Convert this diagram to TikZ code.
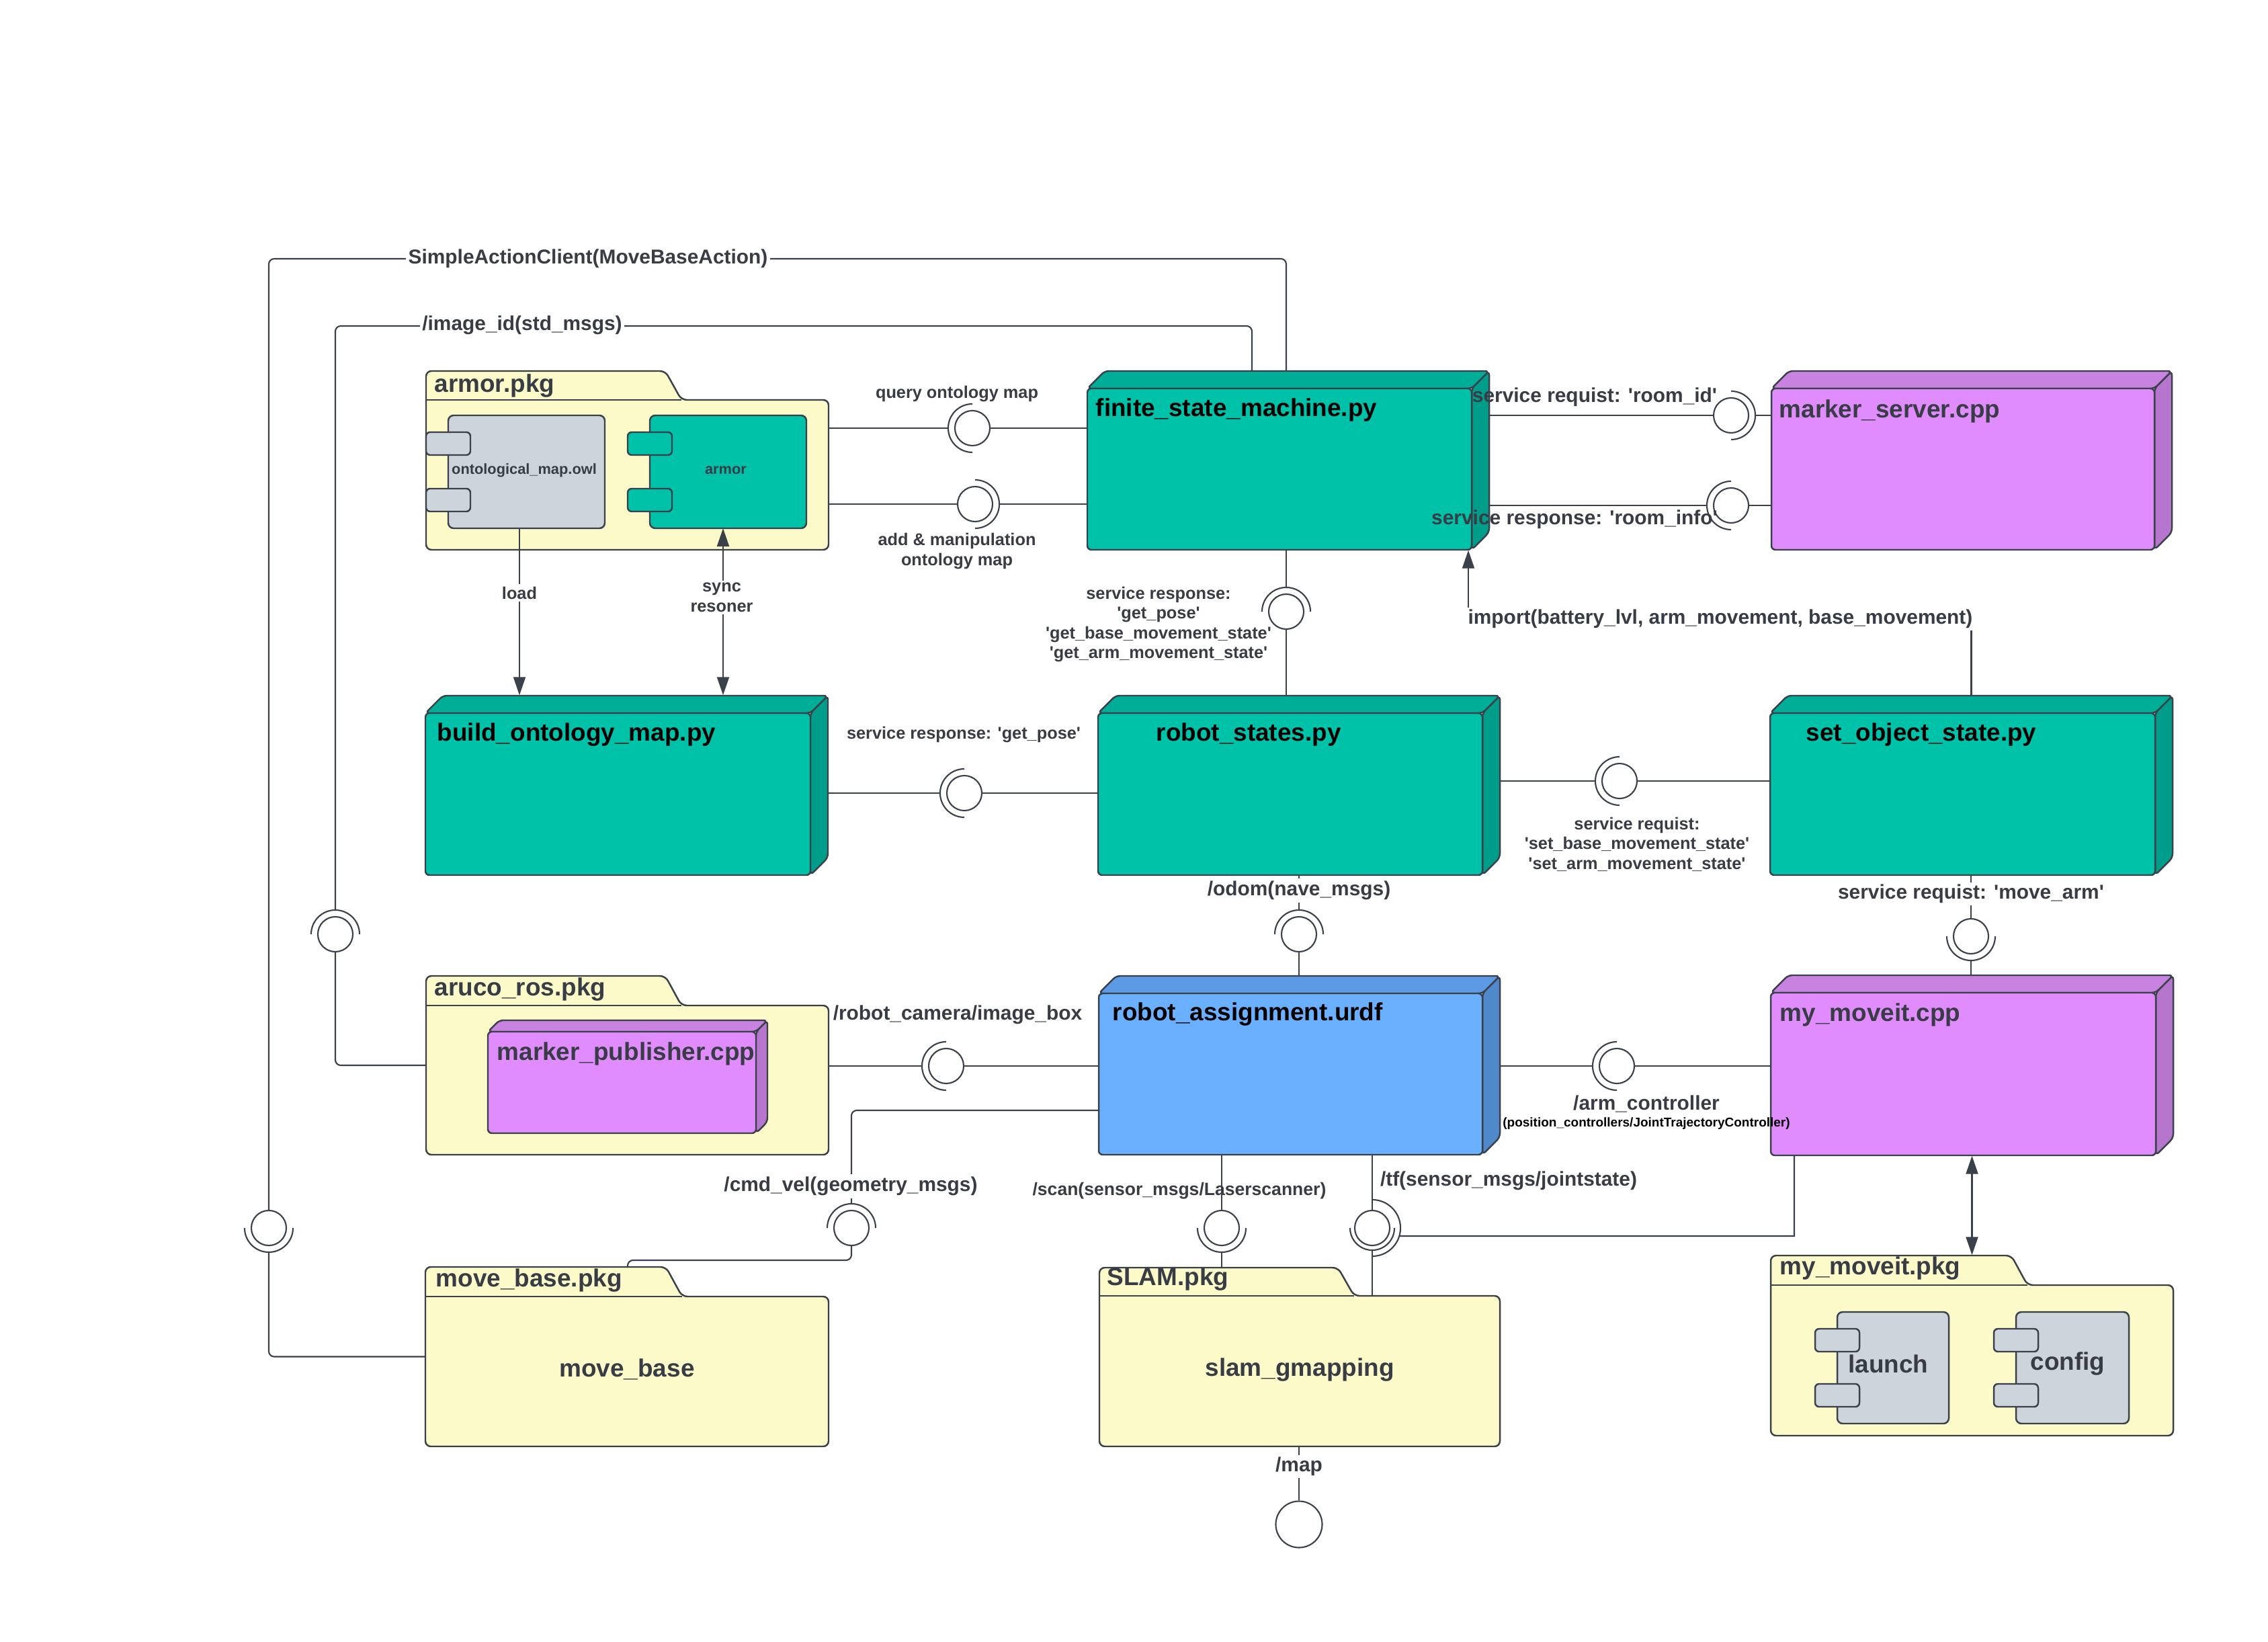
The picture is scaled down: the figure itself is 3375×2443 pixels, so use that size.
\documentclass[tikz,border=0pt]{standalone}
\usepackage{fontspec}
\setmainfont{Liberation Sans}[Ligatures=TeXOff]
\usetikzlibrary{arrows.meta,fit}
\definecolor{ln}{HTML}{3A414A}
\definecolor{tc}{HTML}{383C45}
\definecolor{teal}{HTML}{00C2A8}
\definecolor{tealT}{HTML}{00AE97}
\definecolor{tealS}{HTML}{009E8A}
\definecolor{pur}{HTML}{E08CFC}
\definecolor{purT}{HTML}{C882E0}
\definecolor{purS}{HTML}{B676CE}
\definecolor{blu}{HTML}{6BB0FF}
\definecolor{bluT}{HTML}{5C9BE3}
\definecolor{bluS}{HTML}{5089CB}
\definecolor{yel}{HTML}{FBFAC8}
\definecolor{gry}{HTML}{CED4DC}
\newcommand\ftitle{\fontsize{10.5}{12}\selectfont\bfseries}
\newcommand\flabel{\fontsize{8.5}{8.4}\selectfont\bfseries}
\newcommand\fsmall{\fontsize{6.2}{7}\selectfont\bfseries}
\newcommand\ftiny{\fontsize{5.4}{6}\selectfont\bfseries}
% 3D node box: name, L, T, R, B, depth, front, top, side
\newcommand\mkcube[9]{%
  \node[fit={(#2,#3)(#4,#5)},inner sep=0pt] (#1) {};
  \filldraw[boxln,fill=#8,rounded corners=0.06cm] (#2,{#3+#6}) -- ({#2+#6},#3) -- (#4,#3) -- ({#4-#6},{#3+#6}) -- cycle;
  \filldraw[boxln,fill=#9,rounded corners=0.06cm] ({#4-#6},{#3+#6}) -- (#4,#3) -- (#4,{#5-#6}) -- ({#4-#6},#5) -- cycle;
  \filldraw[boxln,fill=#7,rounded corners=0.06cm] (#2,{#3+#6}) rectangle ({#4-#6},#5);
}
% package: name, L, tab top, body top, tab right, R, B
\newcommand\mkpkg[7]{%
  \node[fit={(#2,#3)(#6,#7)},inner sep=0pt] (#1) {};
  \filldraw[boxln,fill=yel,rounded corners=0.08cm] (#2,#7) -- (#2,#3) -- ({#5-24},#3) -- (#5,#4) -- (#6,#4) -- (#6,#7) -- cycle;
  \draw[boxln] (#2,#4) -- (#5,#4);
}
% component: name, L, T, R, B, fill
\newcommand\mkcomp[6]{%
  \node[fit={({#2-33},#3)(#4,#5)},inner sep=0pt] (#1) {};
  \filldraw[boxln,fill=#6,rounded corners=0.08cm] (#2,#3) rectangle (#4,#5);
  \filldraw[boxln,fill=#6,rounded corners=0.06cm] ({#2-33},{#3+25}) rectangle ({#2+33},{#3+59});
  \filldraw[boxln,fill=#6,rounded corners=0.06cm] ({#2-33},{#5-59}) rectangle ({#2+33},{#5-25});
}
% socket arc: [radius] node, start angle
\newcommand\sock[3][0.36cm]{\draw[con] ([shift={(#3:#1)}]#2.center) arc[start angle=#3,delta angle=180,radius=#1];}
\begin{document}
\begin{tikzpicture}[x=0.01cm,y=-0.01cm,
  boxln/.style={draw=ln,line width=0.7pt},
  con/.style={draw=ln,line width=0.6pt},
  arr/.style={con,-{Triangle[length=0.27cm,width=0.18cm]}},
  arrb/.style={con,{Triangle[length=0.27cm,width=0.18cm]}-{Triangle[length=0.27cm,width=0.18cm]}},
  ball/.style={circle,draw=ln,fill=white,line width=0.6pt,minimum size=0.52cm,inner sep=0pt},
  ttl/.style={anchor=west,font=\ftitle,text=black,inner sep=0pt},
  ttg/.style={ttl,text=tc},
  lbl/.style={font=\flabel,text=tc,align=center,inner sep=1pt},
  lblw/.style={lbl,fill=white},
]
\fill[white] (0,0) rectangle (3375,2443);
\useasboundingbox (0,0) rectangle (3375,2443);

% ---------- packages ----------
\mkpkg{armorpkg}{634}{552}{595}{1014}{1233}{818}
\mkpkg{aruco}{634}{1452}{1496}{1014}{1233}{1718}
\mkpkg{mb}{633}{1885}{1929}{1015}{1233}{2152}
\mkpkg{slam}{1636}{1886}{1928}{2015}{2232}{2152}
\mkpkg{mmp}{2635}{1868}{1912}{3017}{3234}{2136}
\node[ttg] at (646,574) {armor.pkg};
\node[ttg] at (646,1472) {aruco\_ros.pkg};
\node[ttg] at (648,1905) {move\_base.pkg};
\node[ttg] at (1647,1903) {SLAM.pkg};
\node[ttg] at (2648,1887) {my\_moveit.pkg};
\node[font=\ftitle,text=tc] at (933,2037) {move\_base};
\node[font=\ftitle,text=tc] at (1934,2038) {slam\_gmapping};

% ---------- components ----------
\mkcomp{owl}{667}{618}{900}{786}{gry}
\mkcomp{armorc}{967}{618}{1200}{786}{teal}
\mkcomp{launch}{2734}{1952}{2900}{2118}{gry}
\mkcomp{config}{3000}{1952}{3168}{2118}{gry}
\node[font=\fsmall,text=tc] at (780,700) {ontological\_map.owl};
\node[font=\fsmall,text=tc] at (1080,700) {armor};
\node[font=\ftitle,text=tc] at (2810,2029) {launch};
\node[font=\ftitle,text=tc] at (3077,2029) {config};

% ---------- 3D nodes ----------
\mkcube{fsm}{1618}{552}{2216}{818}{26}{teal}{tealT}{tealS}
\mkcube{mserv}{2636}{552}{3232}{818}{26}{pur}{purT}{purS}
\mkcube{build}{633}{1035}{1232}{1302}{26}{teal}{tealT}{tealS}
\mkcube{rstates}{1634}{1035}{2232}{1302}{26}{teal}{tealT}{tealS}
\mkcube{setobj}{2634}{1035}{3233}{1302}{26}{teal}{tealT}{tealS}
\mkcube{rob}{1635}{1452}{2232}{1718}{26}{blu}{bluT}{bluS}
\mkcube{mmc}{2635}{1451}{3234}{1719}{26}{pur}{purT}{purS}
\mkcube{mpub}{726}{1518}{1142}{1686}{17}{pur}{purT}{purS}
\node[ttl] at (1630,610) {finite\_state\_machine.py};
\node[ttg] at (2647,612) {marker\_server.cpp};
\node[ttl] at (650,1093) {build\_ontology\_map.py};
\node[ttl] at (1720,1093) {robot\_states.py};
\node[ttl] at (2687,1093) {set\_object\_state.py};
\node[ttl] at (1655,1509) {robot\_assignment.urdf};
\node[ttg] at (2648,1510) {my\_moveit.cpp};
\node[ttg] at (739,1568) {marker\_publisher.cpp};

% ---------- interface balls ----------
\node[ball] (q1) at (1447,637) {};
\node[ball] (q2) at (1451,750) {};
\node[ball] (ms1) at (2576,618) {};
\node[ball] (ms2) at (2576,752) {};
\node[ball] (rs) at (1914,910) {};
\node[ball] (gp) at (1435,1180) {};
\node[ball] (so) at (2410,1162) {};
\node[ball] (od) at (1933,1390) {};
\node[ball] (ma) at (2933,1393) {};
\node[ball] (ic) at (1408,1586) {};
\node[ball] (ac) at (2406,1586) {};
\node[ball] (iid) at (499,1390) {};
\node[ball] (sac) at (400,1827) {};
\node[ball] (cv) at (1267,1827) {};
\node[ball] (sc) at (1818,1827) {};
\node[ball] (tf) at (2042,1827) {};
\node[ball,minimum size=0.69cm] (map) at (1933,2268) {};
\sock{q1}{90}
\sock{q2}{-90}
\sock{ms1}{-90}
\sock{ms2}{90}
\sock{rs}{0}
\sock{gp}{90}
\sock{so}{90}
\sock{od}{0}
\sock{ma}{180}
\sock{ic}{90}
\sock{ac}{90}
\sock{iid}{0}
\sock{sac}{180}
\sock{cv}{0}
\sock{sc}{180}
\sock[0.33cm]{tf}{180}
\sock[0.42cm]{tf}{-90}

% ---------- helper coordinates ----------
\coordinate (c1) at (1914,385);
\coordinate (c2) at (1863,485);
\coordinate (ld) at (773,786);
\coordinate (sy) at (1076,786);
\coordinate (impL) at (2185,921);
\coordinate (cvA) at (1267,1652);
\coordinate (cvB) at (934,1875);
\coordinate (slamB) at (2042,1928);
\coordinate (tfR) at (2670,1839);

% ---------- connectors ----------
% SimpleActionClient
\draw[con,rounded corners=0.08cm] (mb.west) -| ([yshift=-0.36cm]sac.center);
\draw[con,rounded corners=0.08cm] (sac.north) |- (c1) -- (c1 |- fsm.north);
% image_id
\draw[con,rounded corners=0.08cm] (aruco.west) -| (iid.south);
\draw[con,rounded corners=0.08cm] ([yshift=0.36cm]iid.center) |- (c2) -- (c2 |- fsm.north);
% armor <-> fsm
\draw[con] (armorpkg.east |- q1) -- ([xshift=-0.36cm]q1.center);
\draw[con] (q1.east) -- (fsm.west |- q1);
\draw[con] (armorpkg.east |- q2) -- (q2.west);
\draw[con] ([xshift=0.36cm]q2.center) -- (fsm.west |- q2);
% fsm <-> marker server
\draw[con] (fsm.east |- ms1) -- (ms1.west);
\draw[con] ([xshift=0.36cm]ms1.center) -- (mserv.west |- ms1);
\draw[con] (fsm.east |- ms2) -- ([xshift=-0.36cm]ms2.center);
\draw[con] (ms2.east) -- (mserv.west |- ms2);
% fsm <-> robot states
\draw[con] (fsm.south -| rs) -- ([yshift=0.36cm]rs.center);
\draw[con] (rs.south) -- (rstates.north -| rs);
% import arrow
\draw[arr] (setobj.north) |- (impL) -- (impL |- fsm.south);
% load / sync
\draw[arr] (ld) -- (ld |- build.north);
\draw[arrb] (sy |- build.north) -- (sy);
% get_pose
\draw[con] (build.east |- gp) -- ([xshift=-0.36cm]gp.center);
\draw[con] (gp.east) -- (rstates.west |- gp);
% set object
\draw[con] (rstates.east |- so) -- ([xshift=-0.36cm]so.center);
\draw[con] (so.east) -- (setobj.west |- so);
% odom
\draw[con] (rstates.south -| od) -- ([yshift=0.36cm]od.center);
\draw[con] (od.south) -- (rob.north -| od);
% move_arm
\draw[con] (setobj.south -| ma) -- (ma.north);
\draw[con] ([yshift=-0.36cm]ma.center) -- (mmc.north -| ma);
% image box
\draw[con] (aruco.east |- ic) -- ([xshift=-0.36cm]ic.center);
\draw[con] (ic.east) -- (rob.west |- ic);
% arm controller
\draw[con] (rob.east |- ac) -- ([xshift=-0.36cm]ac.center);
\draw[con] (ac.east) -- (mmc.west |- ac);
% cmd_vel
\draw[con,rounded corners=0.08cm] (rob.west |- cvA) -| ([yshift=0.36cm]cv.center);
\draw[con,rounded corners=0.08cm] (cv.south) |- (cvB) -- (cvB |- mb.north);
% scan
\draw[con] (rob.south -| sc) -- (sc.north);
\draw[con] ([yshift=-0.36cm]sc.center) -- (slam.north -| sc);
% tf
\draw[con] (rob.south -| tf) -- (tf.north);
\draw[con] ([yshift=-0.33cm]tf.center) -- (slamB);
\draw[con] (mmc.south -| tfR) -- (tfR) -- ([shift={(-16.6:0.42cm)}]tf.center);
% my_moveit double arrow
\draw[arrb] (mmc.south) -- (mmp.north);
% map
\draw[con] (slam.south -| map) -- (map.north);

% ---------- labels ----------
\node[lblw] at (875,385) {SimpleActionClient(MoveBaseAction)};
\node[lblw] at (777,484) {/image\_id(std\_msgs)};
\node[lbl,font=\fontsize{7.2}{7.2}\selectfont\bfseries] at (1424,586) {query ontology map};
\node[lbl,font=\fontsize{7.2}{8.4}\selectfont\bfseries] at (1424,820) {add \& manipulation\\ontology map};
\node[lblw,font=\fontsize{7.2}{8.4}\selectfont\bfseries] at (773,882) {load};
\node[lblw,font=\fontsize{7.2}{8.4}\selectfont\bfseries] at (1074,889) {sync\\resoner};
\node[lbl] at (2373,591) {service requist: 'room\_id'};
\node[lbl] at (2343,773) {service response: 'room\_info'};
\node[lbl,font=\fontsize{7.2}{8.4}\selectfont\bfseries] at (1724,929) {service response:\\'get\_pose'\\'get\_base\_movement\_state'\\'get\_arm\_movement\_state'};
\node[lblw] at (2560,921) {import(battery\_lvl, arm\_movement, base\_movement)};
\node[lbl,font=\fontsize{7.2}{8.4}\selectfont\bfseries] at (1434,1093) {service response: 'get\_pose'};
\node[lbl,font=\fontsize{7.2}{8.4}\selectfont\bfseries] at (2436,1256) {service requist:\\'set\_base\_movement\_state'\\'set\_arm\_movement\_state'};
\node[lblw] at (1933,1325) {/odom(nave\_msgs)};
\node[lblw] at (2933,1330) {service requist: 'move\_arm'};
\node[lbl] at (1425,1510) {/robot\_camera/image\_box};
\node[lbl] at (2450,1642) {/arm\_controller};
\node[font=\ftiny,text=black,inner sep=0pt] at (2450,1672) {(position\_controllers/JointTrajectoryController)};
\node[lblw] at (1266,1765) {/cmd\_vel(geometry\_msgs)};
\node[lbl,font=\fontsize{7.55}{8.4}\selectfont\bfseries] at (1755,1772) {/scan(sensor\_msgs/Laserscanner)};
\node[lbl] at (2245,1757) {/tf(sensor\_msgs/jointstate)};
\node[lblw] at (1933,2182) {/map};
\end{tikzpicture}
\end{document}
